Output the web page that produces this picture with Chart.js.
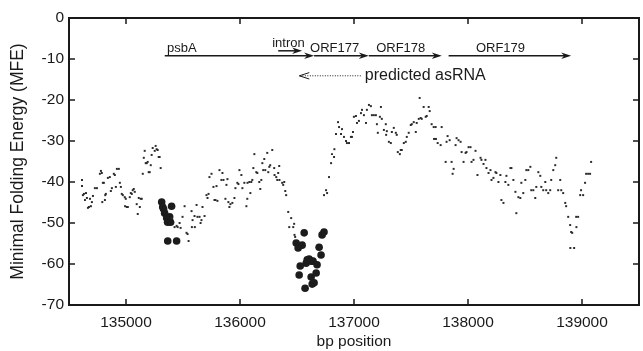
<!DOCTYPE html>
<html>
<head>
<meta charset="utf-8">
<script src="https://cdn.jsdelivr.net/npm/chart.js@4.4.1/dist/chart.umd.min.js"></script>
<style>
  html, body { margin: 0; padding: 0; background: #fff; }
</style>
</head>
<body>
<canvas id="mfeChart" width="643" height="351"></canvas>
<script>
// Axis ticks
const xTicks = [135000, 136000, 137000, 138000, 139000];
const yTicks = [0, -10, -20, -30, -40, -50, -60, -70];

// Sliding-window MFE (small dots): window position (bp) and MFE
const windowPos = [
  134614,134614,134622,134631,134640,134649,134657,134666,134675,134684,
  134692,134701,134710,134727,134745,134771,134780,134788,134792,134797,
  134806,134815,134818,134823,134841,134858,134867,134876,134893,134902,
  134911,134920,134937,134946,134955,134963,134972,134989,134992,134998,
  135007,135016,135033,135042,135051,135059,135068,135077,135094,135103,
  135112,135121,135129,135138,135147,135156,135164,135173,135182,135190,
  135199,135208,135217,135225,135234,135252,135260,135269,135278,135287,
  135295,135304,135400,135426,135444,135453,135470,135479,135496,135514,
  135531,135540,135549,135575,135578,135584,135601,135604,135619,135627,
  135645,135654,135662,135671,135689,135706,135715,135724,135732,135750,
  135767,135776,135785,135794,135802,135820,135837,135846,135855,135872,
  135881,135890,135898,135907,135916,135933,135951,135960,135977,135986,
  135995,136012,136021,136038,136056,136064,136066,136082,136091,136099,
  136108,136117,136126,136143,136152,136169,136178,136187,136196,136204,
  136213,136222,136239,136248,136257,136265,136283,136300,136303,136318,
  136327,136335,136344,136346,136370,136379,136388,136397,136405,136423,
  136432,136449,136467,136475,136478,136484,136737,136755,136764,136781,
  136799,136807,136825,136828,136842,136860,136869,136886,136895,136912,
  136930,136938,136956,136973,136982,136991,136999,137017,137026,137043,
  137061,137070,137087,137105,137113,137131,137148,137157,137174,137192,
  137201,137209,137227,137236,137244,137262,137279,137282,137288,137306,
  137323,137332,137349,137367,137375,137384,137402,137410,137419,137437,
  137454,137463,137480,137498,137507,137524,137542,137550,137568,137576,
  137585,137594,137611,137629,137638,137655,137664,137681,137699,137702,
  137716,137719,137734,137760,137769,137804,137812,137821,137839,137856,
  137865,137874,137891,137900,137917,137935,137944,137961,137979,137987,
  138005,138022,138031,138048,138066,138083,138110,138118,138136,138153,
  138162,138180,138197,138206,138223,138241,138249,138267,138284,138293,
  138311,138328,138337,138354,138372,138381,138398,138416,138424,138442,
  138459,138468,138485,138503,138512,138529,138547,138555,138573,138590,
  138599,138617,138634,138643,138660,138678,138686,138704,138721,138730,
  138748,138765,138774,138791,138809,138818,138835,138853,138861,138879,
  138896,138898,138905,138914,138931,138949,138951,138966,138984,138992,
  139010,139027,139036,139054,139071,139080
];
const windowMfe = [
  -39.5,-41.0,-43.2,-42.9,-44.4,-42.7,-43.9,-46.3,-46.1,-44.1,
  -45.9,-44.9,-43.4,-41.5,-41.5,-38.0,-37.3,-37.8,-44.9,-40.2,
  -40.2,-44.4,-43.2,-42.9,-39.0,-38.8,-42.2,-41.5,-38.0,-38.3,
  -41.2,-36.8,-36.8,-40.2,-41.2,-42.9,-43.2,-43.7,-45.9,-44.1,
  -46.1,-46.1,-43.7,-42.7,-42.9,-42.0,-41.7,-42.4,-45.4,-47.8,
  -43.9,-46.1,-44.1,-44.1,-38.0,-34.1,-32.4,-35.4,-35.4,-35.1,
  -37.6,-37.6,-35.9,-33.4,-31.7,-32.4,-31.2,-32.0,-32.2,-33.9,
  -33.9,-36.6,-48.8,-51.0,-50.7,-51.0,-50.0,-51.2,-48.5,-45.9,
  -52.4,-52.7,-54.4,-47.1,-51.0,-49.3,-48.3,-51.0,-45.6,-48.5,
  -48.5,-50.0,-49.3,-46.1,-48.3,-43.2,-43.9,-42.9,-38.8,-38.0,
  -41.2,-44.4,-44.4,-41.0,-44.6,-37.1,-39.5,-37.8,-39.5,-44.1,
  -40.7,-39.3,-44.9,-46.1,-45.4,-45.1,-43.9,-41.5,-40.2,-40.5,
  -37.1,-38.3,-41.5,-40.2,-45.9,-44.1,-40.2,-40.0,-42.7,-40.0,
  -39.5,-36.6,-33.2,-37.6,-37.8,-40.0,-41.7,-39.5,-35.4,-37.1,
  -34.4,-37.1,-32.9,-37.6,-36.3,-35.9,-32.2,-36.6,-38.3,-38.8,
  -39.5,-37.8,-36.1,-39.5,-40.2,-40.7,-40.0,-42.2,-43.2,-47.3,
  -51.0,-48.8,-51.0,-50.2,-52.9,-53.4,-43.2,-42.0,-42.7,-38.8,
  -35.4,-33.2,-33.9,-32.0,-28.3,-25.4,-26.6,-28.3,-27.1,-29.0,
  -30.0,-30.5,-30.5,-29.0,-29.0,-27.8,-24.1,-23.9,-25.6,-25.1,
  -23.2,-22.4,-23.7,-25.6,-22.4,-21.2,-21.5,-23.7,-23.7,-23.7,
  -25.9,-28.0,-24.1,-21.7,-24.6,-27.3,-25.9,-28.5,-27.6,-30.2,
  -30.5,-27.8,-26.8,-28.0,-28.5,-32.7,-33.2,-32.2,-32.2,-30.5,
  -30.2,-29.0,-28.0,-26.1,-25.9,-25.4,-27.8,-25.6,-24.6,-19.5,
  -24.4,-24.6,-21.7,-24.1,-23.9,-21.7,-22.7,-25.9,-26.6,-29.5,
  -26.6,-29.5,-30.5,-31.0,-26.6,-35.1,-30.2,-28.8,-29.8,-35.1,
  -38.0,-36.8,-31.0,-29.3,-29.8,-30.2,-32.7,-35.1,-32.9,-32.7,
  -31.5,-31.5,-35.1,-34.6,-32.4,-38.3,-34.1,-34.6,-35.6,-34.6,
  -36.6,-37.8,-37.1,-39.5,-39.0,-37.6,-37.8,-40.0,-38.3,-44.4,
  -45.1,-40.0,-38.5,-40.7,-36.6,-36.6,-39.5,-42.4,-47.6,-43.7,
  -43.9,-40.2,-42.7,-39.5,-37.1,-37.1,-36.3,-42.0,-42.0,-43.9,
  -41.2,-37.6,-38.5,-41.2,-42.0,-40.0,-42.0,-42.7,-42.0,-39.5,
  -37.1,-35.9,-34.1,-42.0,-39.5,-42.0,-42.7,-45.1,-45.9,-48.5,
  -50.5,-56.1,-52.2,-52.4,-56.1,-48.5,-51.0,-48.5,-43.2,-42.0,
  -43.2,-40.2,-38.0,-38.0,-38.0,-35.1
];

// Low-MFE windows (big dots)
const hitPos = [
  135313,135322,135330,135339,135357,135365,135366,135383,135391,135400,135444,
  136493,136510,136519,136528,136545,136563,136571,136580,136589,136606,
  136624,136624,136633,136641,136650,136668,136676,136694,136711,136720,136737
];
const hitMfe = [
  -44.9,-46.1,-46.6,-47.6,-48.8,-49.8,-54.4,-48.5,-49.8,-45.9,-54.4,
  -54.9,-56.1,-62.7,-60.5,-55.4,-52.4,-65.9,-59.8,-59.0,-58.8,
  -59.3,-63.2,-64.9,-59.3,-64.6,-62.2,-60.2,-55.9,-57.8,-52.9,-52.2
];

// Gene features drawn as arrows above the data
const featureNames = ['psbA', 'intron', 'ORF177', 'ORF178', 'ORF179'];
const featureStart = [135340, 136335, 136650, 137130, 137830];
const featureEnd = [136650, 136545, 137130, 137770, 138905];
const featureLevel = [-9.2, -8.0, -9.2, -9.2, -9.2];
const featureLabelAt = [135490, 136425, 136830, 137410, 138285];

// Predicted antisense RNA (dotted, pointing left)
const asrnaLabel = 'predicted asRNA';
const asrnaStart = 137060;
const asrnaEnd = 136520;
const asrnaLevel = -14.1;

const FONT = "'Liberation Sans', Arial, Helvetica, sans-serif";
const INK = '#1a1a1a';

function arrowHead(ctx, x, y, dir, open) {
  const len = 10, half = 3.2;
  ctx.beginPath();
  ctx.moveTo(x, y);
  ctx.lineTo(x - dir * len, y - half);
  if (!open) ctx.lineTo(x - dir * (len - 3), y);
  else ctx.moveTo(x, y);
  ctx.lineTo(x - dir * len, y + half);
  if (!open) { ctx.closePath(); ctx.fill(); } else ctx.stroke();
}

const framePlugin = {
  id: 'frame',
  afterDatasetsDraw(chart) {
    const { ctx, chartArea: a, scales: { x, y } } = chart;
    ctx.save();
    ctx.strokeStyle = INK;
    ctx.fillStyle = INK;

    // frame and inward ticks on all four sides
    ctx.lineWidth = 2;
    ctx.strokeRect(a.left, a.top, a.right - a.left, a.bottom - a.top);
    ctx.lineWidth = 1.5;
    ctx.beginPath();
    x.ticks.forEach(t => {
      const px = x.getPixelForValue(t.value);
      ctx.moveTo(px, a.bottom); ctx.lineTo(px, a.bottom - 6);
      ctx.moveTo(px, a.top); ctx.lineTo(px, a.top + 6);
    });
    y.ticks.forEach(t => {
      const py = y.getPixelForValue(t.value);
      ctx.moveTo(a.left, py); ctx.lineTo(a.left + 6, py);
      ctx.moveTo(a.right, py); ctx.lineTo(a.right - 6, py);
    });
    ctx.stroke();

    // gene arrows
    ctx.font = '13px ' + FONT;
    ctx.textAlign = 'center';
    ctx.textBaseline = 'alphabetic';
    featureNames.forEach((name, i) => {
      const x1 = x.getPixelForValue(featureStart[i]);
      const x2 = x.getPixelForValue(featureEnd[i]);
      const py = y.getPixelForValue(featureLevel[i]);
      ctx.lineWidth = 1.5;
      ctx.beginPath();
      ctx.moveTo(x1, py); ctx.lineTo(x2 - 4, py);
      ctx.stroke();
      arrowHead(ctx, x2, py, 1, false);
      ctx.fillText(name, x.getPixelForValue(featureLabelAt[i]), py - 4);
    });

    // antisense RNA, dotted with open head
    const ax1 = x.getPixelForValue(asrnaStart);
    const ax2 = x.getPixelForValue(asrnaEnd);
    const ay = y.getPixelForValue(asrnaLevel);
    ctx.lineWidth = 1;
    ctx.setLineDash([1, 1.5]);
    ctx.beginPath();
    ctx.moveTo(ax1, ay); ctx.lineTo(ax2, ay);
    ctx.stroke();
    ctx.setLineDash([]);
    arrowHead(ctx, ax2, ay, -1, true);
    ctx.font = '16px ' + FONT;
    ctx.textAlign = 'left';
    ctx.textBaseline = 'middle';
    ctx.fillText(asrnaLabel, ax1 + 4, ay);
    ctx.restore();
  }
};

new Chart(document.getElementById('mfeChart'), {
  type: 'scatter',
  data: {
    datasets: [
      {
        data: windowPos.map((p, i) => ({ x: p, y: windowMfe[i] })),
        pointStyle: 'rect',
        pointRadius: 1.4,
        backgroundColor: '#2b2b2b',
        borderWidth: 0
      },
      {
        data: hitPos.map((p, i) => ({ x: p, y: hitMfe[i] })),
        pointRadius: 3.8,
        backgroundColor: '#1c1c1c',
        borderWidth: 0
      }
    ]
  },
  options: {
    responsive: false,
    animation: false,
    devicePixelRatio: 1,
    layout: { padding: { top: 18, right: 2, left: 0, bottom: 0 } },
    plugins: { legend: { display: false }, tooltip: { enabled: false } },
    scales: {
      x: {
        type: 'linear',
        min: 134500,
        max: 139500,
        afterBuildTicks: s => { s.ticks = xTicks.map(v => ({ value: v })); },
        afterFit: s => { s.height = 46; },
        grid: { display: false, drawTicks: false },
        border: { display: false },
        ticks: { font: { family: FONT, size: 15.5 }, color: INK, padding: 8, callback: v => String(v) },
        title: { display: true, text: 'bp position', font: { family: FONT, size: 15.5 }, color: INK, padding: { top: 0, bottom: 0 } }
      },
      y: {
        min: -70,
        max: 0,
        afterBuildTicks: s => { s.ticks = yTicks.map(v => ({ value: v })); },
        afterFit: s => { s.width = 69; },
        grid: { display: false, drawTicks: false },
        border: { display: false },
        ticks: { font: { family: FONT, size: 15.5 }, color: INK, padding: 5, callback: v => String(v) },
        title: { display: true, text: 'Minimal Folding Energy (MFE)', font: { family: FONT, size: 17.5 }, color: INK, padding: { top: 8, bottom: 0 } }
      }
    }
  },
  plugins: [framePlugin]
});
</script>
</body>
</html>
